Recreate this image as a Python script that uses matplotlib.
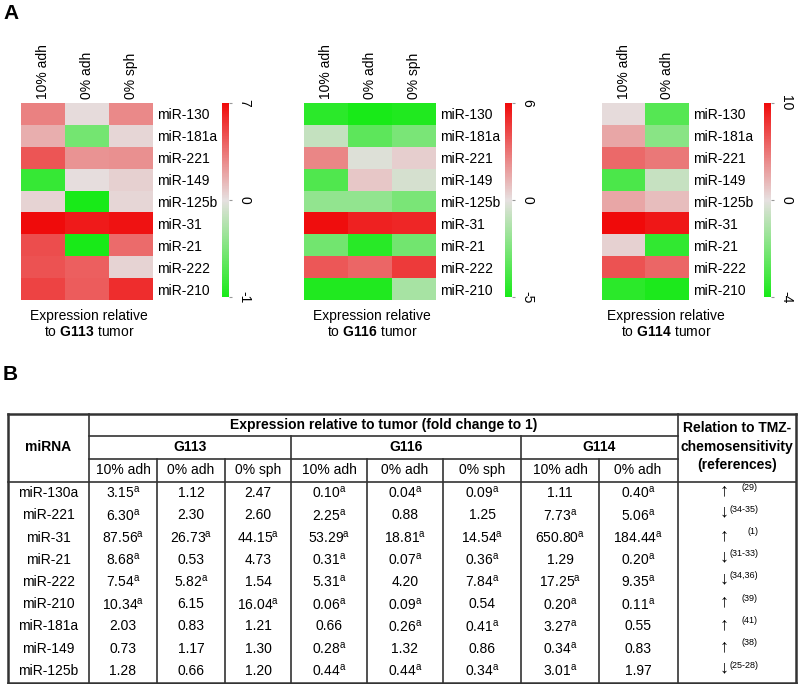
import numpy as np
import matplotlib
matplotlib.use('Agg')
import matplotlib.pyplot as plt
from matplotlib.colors import LinearSegmentedColormap, TwoSlopeNorm

plt.rcParams['font.family'] = ['Liberation Sans', 'DejaVu Sans']
plt.rcParams['mathtext.fontset'] = 'custom'
plt.rcParams['mathtext.rm'] = 'Liberation Sans'
plt.rcParams['mathtext.bf'] = 'Liberation Sans:bold'

hm_rows = ['miR-130', 'miR-181a', 'miR-221', 'miR-149', 'miR-125b',
           'miR-31', 'miR-21', 'miR-222', 'miR-210']
hm_cols3 = ['10% adh', '0% adh', '0% sph']
hm_cols2 = ['10% adh', '0% adh']

hm_g113 = [[3.1, 0.15, 2.8], [1.6, -0.55, 0.3], [4.5, 2.5, 2.6],
           [-0.85, 0.1, 0.5], [0.4, -1.0, 0.3], [6.9, 6.4, 6.7],
           [4.8, -1.0, 3.8], [4.6, 4.2, 0.4], [5.1, 4.3, 5.8]]
hm_g116 = [[-4.5, -5.0, -4.8], [-0.8, -3.3, -2.6], [2.5, -0.2, 0.5],
           [-3.6, 0.7, -0.4], [-2.0, -2.0, -2.6], [5.9, 5.3, 5.2],
           [-2.8, -4.6, -2.8], [3.8, 3.4, 4.6], [-4.8, -4.8, -1.5]]
hm_g114 = [[0.2, -2.8], [2.7, -1.8], [5.5, 4.8], [-3.0, -0.6], [2.7, 1.6],
           [10.0, 9.3], [0.7, -3.5], [6.6, 5.7], [-3.6, -3.9]]

cb_ticks_g113 = [-1, 0, 7]
cb_ticks_g116 = [-5, 0, 6]
cb_ticks_g114 = [-4, 0, 10]

# ---- panel B table data ----
tbl_mirna = ['miR-130a', 'miR-221', 'miR-31', 'miR-21', 'miR-222',
             'miR-210', 'miR-181a', 'miR-149', 'miR-125b']
g113_10adh = ['3.15a', '6.30a', '87.56a', '8.68a', '7.54a', '10.34a', '2.03', '0.73', '1.28']
g113_0adh = ['1.12', '2.30', '26.73a', '0.53', '5.82a', '6.15', '0.83', '1.17', '0.66']
g113_0sph = ['2.47', '2.60', '44.15a', '4.73', '1.54', '16.04a', '1.21', '1.30', '1.20']
g116_10adh = ['0.10a', '2.25a', '53.29a', '0.31a', '5.31a', '0.06a', '0.66', '0.28a', '0.44a']
g116_0adh = ['0.04a', '0.88', '18.81a', '0.07a', '4.20', '0.09a', '0.26a', '1.32', '0.44a']
g116_0sph = ['0.09a', '1.25', '14.54a', '0.36a', '7.84a', '0.54', '0.41a', '0.86', '0.34a']
g114_10adh = ['1.11', '7.73a', '650.80a', '1.29', '17.25a', '0.20a', '3.27a', '0.34a', '3.01a']
g114_0adh = ['0.40a', '5.06a', '184.44a', '0.20a', '9.35a', '0.11a', '0.55', '0.83', '1.97']
tmz_arrow = ['↑', '↓', '↑', '↓', '↓', '↑', '↑', '↑', '↓']
tmz_refs = ['(29)', '(34-35)', '(1)', '(31-33)', '(34,36)', '(39)', '(41)', '(38)', '(25-28)']

W, H = 798, 684
fig = plt.figure(figsize=(W / 100, H / 100), dpi=100)

cmap = LinearSegmentedColormap.from_list('gwr', ['#18ea18', '#e6e0e0', '#f00a0a'])


def px_axes(x0, y0, x1, y1):
    return fig.add_axes([x0 / W, 1 - y1 / H, (x1 - x0) / W, (y1 - y0) / H])


def heatmap(data, cols, x0, x1, cbx, ticks, cap_x, name):
    data = np.array(data)
    ax = px_axes(x0, 103, x1, 300)
    norm = TwoSlopeNorm(vmin=ticks[0], vcenter=0, vmax=ticks[-1])
    im = ax.imshow(data, cmap=cmap, norm=norm, aspect='auto', interpolation='nearest')
    ax.set_xticks(range(len(cols)))
    ax.set_xticklabels(cols, rotation=90, fontsize=10)
    ax.xaxis.tick_top()
    ax.set_yticks(range(len(hm_rows)))
    ax.set_yticklabels(hm_rows, fontsize=10)
    ax.yaxis.tick_right()
    ax.tick_params(length=0, pad=3)
    for s in ax.spines.values():
        s.set_visible(False)

    cax = px_axes(cbx, 103, cbx + 7, 297)
    cb = fig.colorbar(im, cax=cax, ticks=ticks)
    cb.outline.set_visible(False)
    cb.ax.tick_params(length=2, width=0.8, color='#999999', pad=4)
    cb.ax.set_yticklabels([str(t) for t in ticks], rotation=270, va='center', fontsize=10)

    fig.text(cap_x / W, 1 - 316 / H, 'Expression relative', ha='center', va='center', fontsize=10)
    fig.text(cap_x / W, 1 - 332 / H, r'to $\mathbf{' + name + r'}$ tumor',
             ha='center', va='center', fontsize=10)


heatmap(hm_g113, hm_cols3, 21, 153, 222, cb_ticks_g113, 89, 'G113')
heatmap(hm_g116, hm_cols3, 304, 436, 505, cb_ticks_g116, 372, 'G116')
heatmap(hm_g114, hm_cols2, 602, 689, 764, cb_ticks_g114, 666, 'G114')

# ---- table drawn in pixel coordinates ----
tx = fig.add_axes([0, 0, 1, 1])
tx.set_xlim(0, W)
tx.set_ylim(H, 0)
tx.axis('off')

tx.text(3, 4, 'A', fontsize=15, fontweight='bold', va='top', ha='left')
tx.text(3, 365, 'B', fontsize=15, fontweight='bold', va='top', ha='left')

lc = '#333333'
top, bot, left, right = 414, 683, 8, 796
for x in [left, right]:
    tx.plot([x, x], [top, bot], color=lc, lw=1.8)
for y in [top, bot]:
    tx.plot([left, right], [y, y], color=lc, lw=1.8)
for x in [89, 678]:
    tx.plot([x, x], [top, bot], color=lc, lw=1.2)
for x in [291, 521]:
    tx.plot([x, x], [436, bot], color=lc, lw=1.2)
for x in [157, 225, 367, 443, 599]:
    tx.plot([x, x], [459, bot], color=lc, lw=1.2)
for y in [436, 459]:
    tx.plot([89, 678], [y, y], color=lc, lw=1.2)
tx.plot([left, right], [482, 482], color=lc, lw=1.2)

fs = 10
tx.text(48.5, 447, 'miRNA', ha='center', va='center', fontsize=fs, fontweight='bold')
tx.text(383.5, 425, 'Expression relative to tumor (fold change to 1)',
        ha='center', va='center', fontsize=fs, fontweight='bold')
for lab, xc in [('G113', 190), ('G116', 406), ('G114', 599.5)]:
    tx.text(xc, 447, lab, ha='center', va='center', fontsize=fs, fontweight='bold')
for lab, yc in [('Relation to TMZ-', 428), ('chemosensitivity', 447), ('(references)', 465)]:
    tx.text(737, yc, lab, ha='center', va='center', fontsize=fs, fontweight='bold')

col_x = [123, 191, 258, 329, 405, 482, 560, 638]
sub_heads = hm_cols3 + hm_cols3 + hm_cols2
for lab, xc in zip(sub_heads, col_x):
    tx.text(xc, 470, lab, ha='center', va='center', fontsize=fs)

table_cols = [g113_10adh, g113_0adh, g113_0sph, g116_10adh, g116_0adh,
              g116_0sph, g114_10adh, g114_0adh]
for i, m in enumerate(tbl_mirna):
    yc = 493 + i * 22.25
    tx.text(48.5, yc, m, ha='center', va='center', fontsize=fs)
    for col, xc in zip(table_cols, col_x):
        v = col[i]
        if v.endswith('a'):
            s = v[:-1] + r'$^{\mathrm{a}}$'
        else:
            s = v
        tx.text(xc, yc, s, ha='center', va='center', fontsize=fs)
    ay = yc - 2 if tmz_arrow[i] == '↑' else yc - 3
    tx.text(724, ay, tmz_arrow[i], ha='center', va='center', fontsize=13)
    tx.text(758, yc - 6, tmz_refs[i], ha='right', va='center', fontsize=6.5)

fig.savefig('out.png', dpi=100)
